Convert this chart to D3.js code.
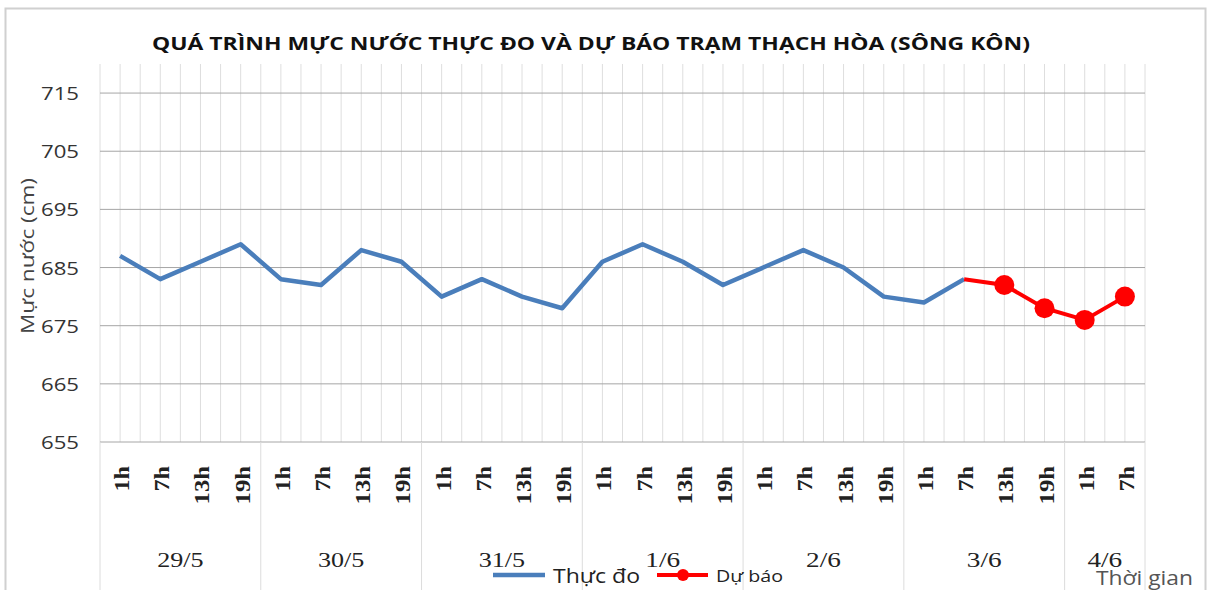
<!DOCTYPE html>
<html>
<head>
<meta charset="utf-8">
<script src="https://cdn.jsdelivr.net/npm/d3@7"></script>
<style>
  body { margin: 0; background: #fff; }
  svg { display: block; }
</style>
</head>
<body>
<div id="main"></div>
<script>
// data
const hours = ["1h","7h","13h","19h","1h","7h","13h","19h","1h","7h","13h","19h",
    "1h","7h","13h","19h","1h","7h","13h","19h","1h","7h","13h","19h","1h","7h"];
const days = ["29/5","30/5","31/5","1/6","2/6","3/6","4/6"];
const daySizes = [4, 4, 4, 4, 4, 4, 2];
const observed = [687,683,686,689, 683,682,688,686, 680,683,680,678,
    686,689,686,682, 685,688,685,680, 679,683];
const forecast = [683, 682, 678, 676, 680];   // starts at 3/6 7h
const forecastStart = 21;
const yTicks = [655, 665, 675, 685, 695, 705, 715];

// dimensions
const svg_width = 1212, svg_height = 590;
const plot = {left: 100, right: 1145, top: 64, bottom: 442};

const svg = d3.select("#main").append("svg")
    .attr("width", svg_width)
    .attr("height", svg_height);

// chart border
svg.append("rect")
    .attr("x", 5.5).attr("y", 8.5)
    .attr("width", 1200).attr("height", 600)
    .attr("fill", "none").attr("stroke", "#d0d0d0").attr("stroke-width", 2);

// scales
const xScale = d3.scaleBand()
    .domain(d3.range(hours.length))
    .range([plot.left, plot.right])
    .padding(0);
const xc = i => xScale(i) + xScale.bandwidth() / 2;
const yScale = d3.scaleLinear()
    .domain([655, 720])
    .range([plot.bottom, plot.top]);

// vertical gridlines (category edges and centres)
const grid = svg.append("g");
d3.range(hours.length).forEach(i => {
    [xScale(i), xc(i)].forEach(x => {
        grid.append("line")
            .attr("x1", x).attr("x2", x)
            .attr("y1", plot.top).attr("y2", plot.bottom)
            .attr("stroke", "#dedede").attr("stroke-width", 1);
    });
});
grid.append("line")
    .attr("x1", plot.right).attr("x2", plot.right)
    .attr("y1", plot.top).attr("y2", plot.bottom)
    .attr("stroke", "#dedede");

// horizontal gridlines
svg.append("g")
    .selectAll("line")
    .data(yTicks)
    .join("line")
    .attr("x1", plot.left).attr("x2", plot.right)
    .attr("y1", d => yScale(d)).attr("y2", d => yScale(d))
    .attr("stroke", "#a6a6a6").attr("stroke-width", 1);

// day separators
let idx = 0;
const dayStarts = daySizes.map(n => { const s = idx; idx += n; return s; });
svg.append("g")
    .selectAll("line")
    .data(dayStarts.concat([hours.length]))
    .join("line")
    .attr("x1", d => d < hours.length ? xScale(d) : plot.right)
    .attr("x2", d => d < hours.length ? xScale(d) : plot.right)
    .attr("y1", plot.bottom).attr("y2", svg_height)
    .attr("stroke", "#dcdcdc").attr("stroke-width", 1);

// y labels
svg.append("g")
    .selectAll("text")
    .data(yTicks)
    .join("text")
    .attr("x", 79)
    .attr("y", d => yScale(d) + 7)
    .attr("text-anchor", "end")
    .attr("font-family", "Open Sans, sans-serif")
    .attr("font-size", 19)
    .attr("textLength", 38)
    .attr("lengthAdjust", "spacingAndGlyphs")
    .attr("fill", "#333")
    .text(d => d);

svg.append("text")
    .attr("transform", "translate(34,256) rotate(-90)")
    .attr("text-anchor", "middle")
    .attr("font-family", "Open Sans, sans-serif")
    .attr("font-size", 19)
    .attr("textLength", 156)
    .attr("lengthAdjust", "spacingAndGlyphs")
    .attr("fill", "#444")
    .text("Mực nước (cm)");

// hour labels
svg.append("g")
    .selectAll("text")
    .data(hours)
    .join("text")
    .attr("transform", (d, i) => `translate(${xc(i) + 9},466) rotate(-90)`)
    .attr("text-anchor", "end")
    .attr("font-family", "Liberation Serif, serif")
    .attr("font-weight", "bold")
    .attr("font-size", 20)
    .attr("textLength", d => 12.8 * d.length)
    .attr("lengthAdjust", "spacingAndGlyphs")
    .attr("fill", "#222")
    .text(d => d);

// day labels
svg.append("g")
    .selectAll("text")
    .data(days)
    .join("text")
    .attr("x", (d, i) => {
        const s = dayStarts[i], e = s + daySizes[i];
        const x1 = e < hours.length ? xScale(e) : plot.right;
        return (xScale(s) + x1) / 2;
    })
    .attr("y", 567)
    .attr("text-anchor", "middle")
    .attr("font-family", "Liberation Serif, serif")
    .attr("font-size", 20)
    .attr("textLength", d => 11.6 * d.length)
    .attr("lengthAdjust", "spacingAndGlyphs")
    .attr("fill", "#222")
    .text(d => d);

// title
svg.append("text")
    .attr("x", 591).attr("y", 50)
    .attr("text-anchor", "middle")
    .attr("font-family", "Open Sans, sans-serif")
    .attr("font-weight", "bold")
    .attr("font-size", 17)
    .attr("textLength", 878)
    .attr("lengthAdjust", "spacingAndGlyphs")
    .attr("fill", "#111")
    .text("QUÁ TRÌNH MỰC NƯỚC THỰC ĐO VÀ DỰ BÁO TRẠM THẠCH HÒA (SÔNG KÔN)");

// lines
const line = d3.line()
    .x(d => xc(d.i))
    .y(d => yScale(d.v));
const obsPts = observed.map((v, i) => ({i: i, v: v}));
const fcPts = forecast.map((v, k) => ({i: forecastStart + k, v: v}));

svg.append("path")
    .datum(obsPts)
    .attr("d", line)
    .attr("fill", "none")
    .attr("stroke", "#4a7ebb")
    .attr("stroke-width", 4.5)
    .attr("stroke-linejoin", "round");

svg.append("path")
    .datum(fcPts)
    .attr("d", line)
    .attr("fill", "none")
    .attr("stroke", "#ff0000")
    .attr("stroke-width", 4);

svg.append("g")
    .selectAll("circle")
    .data(fcPts.slice(1))
    .join("circle")
    .attr("cx", d => xc(d.i))
    .attr("cy", d => yScale(d.v))
    .attr("r", 10)
    .attr("fill", "#ff0000");

// legend
const legend = svg.append("g");
legend.append("line")
    .attr("x1", 493).attr("x2", 545).attr("y1", 575).attr("y2", 575)
    .attr("stroke", "#4a7ebb").attr("stroke-width", 4.5);
legend.append("text")
    .attr("x", 553).attr("y", 583)
    .attr("font-family", "Open Sans, sans-serif")
    .attr("font-size", 20)
    .attr("textLength", 87)
    .attr("lengthAdjust", "spacingAndGlyphs")
    .attr("fill", "#222")
    .text("Thực đo");
legend.append("line")
    .attr("x1", 657).attr("x2", 708).attr("y1", 575).attr("y2", 575)
    .attr("stroke", "#ff0000").attr("stroke-width", 4);
legend.append("circle")
    .attr("cx", 683).attr("cy", 575).attr("r", 6)
    .attr("fill", "#ff0000");
legend.append("text")
    .attr("x", 716).attr("y", 582)
    .attr("font-family", "Open Sans, sans-serif")
    .attr("font-size", 16)
    .attr("textLength", 67)
    .attr("lengthAdjust", "spacingAndGlyphs")
    .attr("fill", "#222")
    .text("Dự báo");

svg.append("text")
    .attr("x", 1193).attr("y", 585)
    .attr("text-anchor", "end")
    .attr("font-family", "Open Sans, sans-serif")
    .attr("font-size", 20)
    .attr("textLength", 97)
    .attr("lengthAdjust", "spacingAndGlyphs")
    .attr("fill", "#555")
    .text("Thời gian");
</script>
</body>
</html>
